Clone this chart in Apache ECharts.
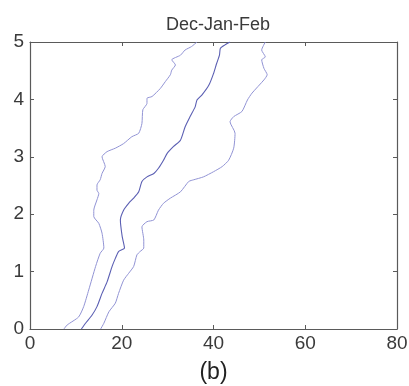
<!DOCTYPE html>
<html>
<head>
<meta charset="utf-8">
<script src="https://cdn.jsdelivr.net/npm/echarts@6/dist/echarts.min.js"></script>
<style>
  html, body { margin: 0; padding: 0; background: #fff; }
  #chart { width: 409px; height: 386px; }
</style>
</head>
<body>
<div id="chart"></div>
<script>
// Lower envelope (x, height) pairs
const lowerX = [7.4, 8.1, 10.6, 11.7, 12.8, 14.3, 15.3, 16.1, 15.7, 15.0, 13.9, 13.9, 14.6, 15.0, 14.6, 14.6, 15.3, 15.7, 16.4, 15.7, 16.8, 18.6, 20.4, 22.2, 23.7, 24.4, 24.6, 25.5, 25.5, 26.6, 28.4, 29.5, 30.6, 30.9, 31.7, 30.9, 32.8, 33.8, 35.2, 36.4];
const lowerY = [0, 0.07, 0.21, 0.39, 0.68, 1.09, 1.32, 1.41, 1.67, 1.84, 1.96, 2.07, 2.25, 2.36, 2.42, 2.51, 2.6, 2.71, 2.83, 3.0, 3.09, 3.15, 3.23, 3.35, 3.41, 3.58, 3.82, 3.93, 4.02, 4.05, 4.19, 4.31, 4.43, 4.51, 4.6, 4.69, 4.77, 4.86, 4.92, 5.0];

// Median curve
const medianX = [11.2, 12.1, 13.5, 14.6, 15.7, 16.8, 17.9, 18.6, 19.3, 20.6, 20.1, 19.7, 20.4, 21.5, 22.6, 23.7, 24.4, 25.5, 27.0, 28.0, 29.1, 29.9, 31.3, 32.8, 33.8, 34.9, 36.0, 36.4, 37.5, 39.0, 40.0, 40.7, 41.3, 41.5, 42.5, 43.6];
const medianY = [0, 0.1, 0.24, 0.39, 0.62, 0.82, 1.09, 1.23, 1.35, 1.41, 1.61, 1.9, 2.07, 2.19, 2.28, 2.39, 2.57, 2.65, 2.71, 2.8, 2.94, 3.06, 3.18, 3.29, 3.52, 3.7, 3.87, 3.99, 4.08, 4.25, 4.45, 4.63, 4.77, 4.89, 4.95, 5.0];

// Upper envelope
const upperX = [15.4, 16.1, 17.2, 18.6, 19.3, 20.4, 21.5, 22.6, 23.3, 24.0, 24.8, 24.8, 24.4, 25.5, 27.0, 28.0, 29.1, 30.6, 32.8, 34.6, 35.7, 37.8, 40.0, 41.9, 43.3, 44.4, 44.7, 43.6, 44.4, 46.2, 47.4, 48.4, 51.0, 51.7, 51.0, 50.5, 51.3, 50.5, 51.3];
const upperY = [0, 0.1, 0.3, 0.45, 0.62, 0.85, 0.97, 1.09, 1.29, 1.35, 1.41, 1.55, 1.78, 1.87, 1.9, 2.07, 2.19, 2.28, 2.39, 2.57, 2.6, 2.65, 2.74, 2.83, 2.94, 3.15, 3.41, 3.61, 3.7, 3.79, 3.99, 4.11, 4.34, 4.43, 4.54, 4.69, 4.74, 4.86, 5.0];

const xTicks = [0, 20, 40, 60, 80];
const yTicks = [0, 1, 2, 3, 4, 5];

const pairs = (xs, ys) => xs.map((x, i) => [x, ys[i]]);

const fontFamily = 'Liberation Sans, Arial, sans-serif';
const axisColor = '#5a5a5a';
const labelFont = { fontFamily: fontFamily, fontSize: 19, color: '#3a3a3a' };

function valueAxis(pos, ticks, showLabels, extra) {
  return Object.assign({
    type: 'value',
    position: pos,
    min: ticks[0],
    max: ticks[ticks.length - 1],
    interval: ticks[1] - ticks[0],
    splitLine: { show: false },
    axisLine: { show: true, onZero: false, lineStyle: { color: axisColor, width: 1.2 } },
    axisTick: { show: true, inside: true, length: 4, lineStyle: { color: axisColor } },
    axisLabel: Object.assign({ show: showLabels }, labelFont)
  }, extra || {});
}

const chart = echarts.init(document.getElementById('chart'), null, { renderer: 'canvas' });

const lineStyleOuter = { color: '#9193d4', width: 1 };
const lineStyleMid = { color: '#5b5fb3', width: 1.1 };

chart.setOption({
  backgroundColor: '#fff',
  animation: false,
  title: {
    text: 'Dec-Jan-Feb',
    left: 213,
    top: 11,
    textAlign: 'center',
    textStyle: { fontFamily: fontFamily, fontSize: 18, fontWeight: 'normal', color: '#3a3a3a' }
  },
  grid: { left: 30, right: 12, top: 42, bottom: 57, containLabel: false, outerBoundsMode: 'none' },
  xAxis: [
    valueAxis('bottom', xTicks, true, {
      name: '(b)',
      nameLocation: 'middle',
      nameGap: 32,
      nameTextStyle: { fontFamily: fontFamily, fontSize: 23, color: '#222' },
      axisLabel: Object.assign({ show: true, margin: 5 }, labelFont)
    }),
    valueAxis('top', xTicks, false)
  ],
  yAxis: [
    valueAxis('left', yTicks, true, { axisLabel: Object.assign({ show: true, margin: 6 }, labelFont) }),
    valueAxis('right', yTicks, false)
  ],
  series: [
    { type: 'line', data: pairs(lowerX, lowerY), showSymbol: false, smooth: 0.2, lineStyle: lineStyleOuter, z: 2 },
    { type: 'line', data: pairs(medianX, medianY), showSymbol: false, smooth: 0.2, lineStyle: lineStyleMid, z: 3 },
    { type: 'line', data: pairs(upperX, upperY), showSymbol: false, smooth: 0.2, lineStyle: lineStyleOuter, z: 2 }
  ]
});
</script>
</body>
</html>
